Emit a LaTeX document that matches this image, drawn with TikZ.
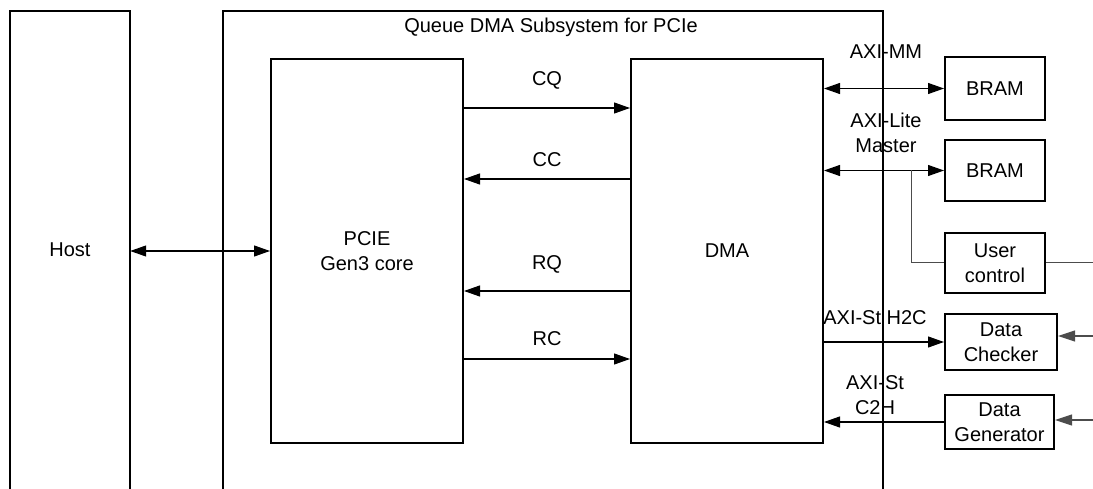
\documentclass[tikz,border=0pt]{standalone}
\usepackage{fontspec}
\setmainfont{Liberation Sans}
\usetikzlibrary{arrows.meta}
\tikzset{
  tri/.tip={Triangle[length=16pt,width=11pt]},
  gtri/.tip={Triangle[length=17pt,width=11pt]}}
\begin{document}
\begin{tikzpicture}[x=1pt,y=-1pt,
  every node/.style={font=\fontsize{20}{25}\selectfont, align=center, inner sep=0pt},
  box/.style={draw, line width=2pt},
  frame/.style={rectangle},
  link/.style={line width=1.1pt},
  feed/.style={line width=1.1pt, draw=black!70, -{gtri}},
  tapline/.style={line width=1pt, draw=black!70}]
\useasboundingbox (0,0) rectangle (1093,489);

% open-bottom frames: host and the subsystem
\node[frame, minimum width=120pt, minimum height=478pt] (host) at (70,250) {Host};
\draw[line width=2pt] (host.south west) |- (host.north east) -- (host.south east);
\node[frame, minimum width=660pt, minimum height=478pt] (qdma) at (553,250) {};
\draw[line width=2pt] (qdma.south west) |- (qdma.north east) -- (qdma.south east);
\node (title) at (551,27) {Queue DMA Subsystem for PCIe};

% inner blocks
\node[box, minimum width=192pt, minimum height=384pt] (pcie) at (367,251) {PCIE\\Gen3 core};
\node[box, minimum width=192pt, minimum height=384pt] (dma) at (727,251) {DMA};

% external blocks
\node[box, minimum width=100pt, minimum height=63pt] (bram1) at (995,88.5) {BRAM};
\node[box, minimum width=100pt, minimum height=61pt] (bram2) at (995,170.5) {BRAM};
\node[box, minimum width=100pt, minimum height=60pt] (uc) at (995,263) {User\\control};
\node[box, minimum width=112pt, minimum height=56pt] (chk) at (1001,342) {Data\\Checker};
\node[box, minimum width=109pt, minimum height=54pt] (gen) at (999.5,422) {Data\\Generator};

\coordinate (edge) at (1093,0);
\coordinate (tap) at (911,0);

% host link
\draw[link, {tri}-{tri}] (host.east |- pcie.west) -- (pcie.west);

% PCIe core <-> DMA channels
\draw[link, -{tri}] ([yshift=143pt]pcie.east) -- ([yshift=143pt]dma.west);
\node at (547,80) {CQ};
\draw[link, -{tri}] ([yshift=72pt]dma.west) -- ([yshift=72pt]pcie.east);
\node at (547,160) {CC};
\draw[link, -{tri}] ([yshift=-40pt]dma.west) -- ([yshift=-40pt]pcie.east);
\node at (547,264) {RQ};
\draw[link, -{tri}] ([yshift=-108pt]pcie.east) -- ([yshift=-108pt]dma.west);
\node at (547,339) {RC};

% DMA side interfaces
\draw[link, {tri}-{tri}] (dma.east |- bram1.west) -- (bram1.west);
\node at (886,52) {AXI-MM};
\draw[link, {tri}-{tri}] (dma.east |- bram2.west) -- (bram2.west);
\node at (886,133) {AXI-Lite\\Master};
\draw[tapline] (tap |- bram2.west) |- (uc.west);
\draw[tapline] (uc.east) -- (edge |- uc.east);

\draw[link, -{tri}] (dma.east |- chk.west) -- (chk.west);
\node at (875,318) {AXI-St H2C};
\draw[link, -{tri}] (gen.west) -- (dma.east |- gen.west);
\node at (875,395) {AXI-St\\C2H};

\draw[feed] (edge |- 0,336) -- (chk.east |- 0,336);
\draw[feed] (edge |- 0,420) -- (gen.east |- 0,420);
\end{tikzpicture}
\end{document}
